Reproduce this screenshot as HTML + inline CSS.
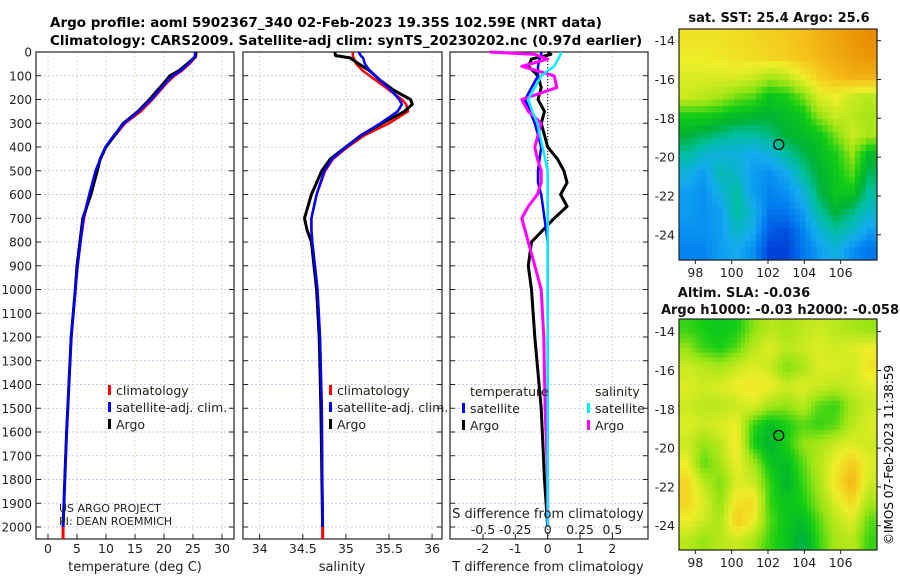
<!DOCTYPE html>
<html><head><meta charset="utf-8">
<style>
html,body{margin:0;padding:0;background:#fff;}
svg text{font-family:"DejaVu Sans","Liberation Sans",sans-serif;}
</style></head>
<body>
<svg id="fig" width="900" height="580" viewBox="0 0 900 580" xmlns="http://www.w3.org/2000/svg">
<rect width="900" height="580" fill="#fff"/>
<text x="50" y="27" font-size="13.5" font-weight="bold">Argo profile: aoml 5902367_340 02-Feb-2023 19.35S 102.59E (NRT data)</text>
<text x="50" y="45" font-size="13.5" font-weight="bold">Climatology: CARS2009. Satellite-adj clim: synTS_20230202.nc (0.97d earlier)</text>
<g id="g1"></g>
<g id="g2"></g>
<g id="g3"></g>
<g id="g4"></g>
<g id="g5"></g>
<text transform="translate(893,545) rotate(-90)" font-size="12">©IMOS 07-Feb-2023 11:38:59</text>
</svg>
<script>
// ---- profile data ----
const depthsT = [0,20,50,80,100,130,200,250,300,350,400,450,500,600,700,800,900,1000,1200,1400,1600,1800,2000];
const tempArgo = [25.5,25.4,24,22.5,21,20,17.5,15.5,13,11.5,10,9,8.5,7.4,6,5.5,5,4.7,4.0,3.6,3.2,2.9,2.6];
const tempClim = [25.6,25.5,24.4,23,21.8,20.5,18,16,13.3,11.6,10,9.1,8.3,7.2,6.2,5.6,5.1,4.7,4.0,3.6,3.2,2.9,2.6];
const tempSat  = [25.4,25.3,24.2,22.8,21.5,20.3,17.8,15.6,13.1,11.4,9.9,9.0,8.2,7.1,6.1,5.6,5.1,4.7,4.0,3.6,3.2,2.9,2.6];
const depthsS = [0,15,25,50,80,120,160,200,220,250,300,350,400,450,500,600,700,750,800,900,1000,1200,1500,2000];
const salArgo = [34.87,34.88,35.05,35.15,35.28,35.4,35.55,35.75,35.77,35.68,35.42,35.18,35.0,34.82,34.72,34.6,34.52,34.55,34.6,34.63,34.66,34.69,34.71,34.73];
const salClim = [35.08,35.08,35.09,35.12,35.2,35.35,35.5,35.65,35.7,35.72,35.5,35.22,35.02,34.85,34.76,34.66,34.6,34.6,34.61,34.64,34.67,34.7,34.72,34.73];
const salSat  = [35.15,35.17,35.2,35.22,35.28,35.4,35.52,35.62,35.65,35.6,35.4,35.18,35.0,34.84,34.75,34.66,34.6,34.6,34.61,34.64,34.67,34.7,34.72,34.73];
const depthsD = [0,10,30,60,100,150,200,250,300,400,450,500,550,600,650,700,800,900,1000,1200,1500,1800,2000];
const dTArgo = [0,0.1,-0.5,-0.6,-0.3,-0.2,-0.3,-0.1,-0.2,0,0.3,0.5,0.6,0.4,0.6,0.2,-0.5,-0.6,-0.5,-0.4,-0.2,-0.1,0];
const dTSat  = [-0.2,-0.2,-0.25,-0.3,-0.3,-0.5,-0.7,-0.55,-0.4,-0.2,-0.25,-0.3,-0.3,-0.2,-0.15,-0.1,0,0,0,0,0,0,0];
const dSArgo = [-0.45,-0.1,0.0,-0.2,0.05,0.07,-0.2,-0.15,-0.05,-0.1,-0.08,-0.05,-0.05,-0.08,-0.15,-0.2,-0.15,-0.1,-0.05,-0.03,-0.02,0,0];
const dSSat  = [0.1,0.1,0.08,0.05,-0.05,-0.1,-0.15,-0.12,-0.08,-0.04,-0.02,0,0,0,0,0,0,0,0,0,0,0,0];
const depthTicks = [0,100,200,300,400,500,600,700,800,900,1000,1100,1200,1300,1400,1500,1600,1700,1800,1900,2000];
const tTicks = [0,5,10,15,20,25,30];
const sTicks = [34,34.5,35,35.5,36];
const dTTicks = [-2,-1,0,1,2];
const dSTicks = [-0.5,-0.25,0,0.25,0.5];
const dSTickLabels = ["-0.5","-0.25","0","0.25","0.5"];
// ---- map data (rows top->bottom, cols west->east) ----
const sstGrid = [
[.72,.72,.72,.73,.74,.75,.76,.78,.80,.82,.84,.86],
[.70,.70,.71,.72,.73,.74,.75,.77,.79,.81,.83,.84],
[.68,.68,.68,.68,.66,.62,.64,.70,.75,.78,.80,.80],
[.66,.64,.62,.58,.56,.50,.52,.58,.68,.70,.66,.64],
[.52,.52,.50,.48,.47,.46,.48,.50,.60,.66,.64,.62],
[.46,.44,.42,.40,.40,.42,.46,.48,.50,.58,.66,.62],
[.40,.36,.34,.34,.32,.34,.40,.44,.48,.52,.60,.48],
[.34,.30,.38,.36,.30,.28,.32,.40,.46,.50,.56,.44],
[.30,.28,.34,.40,.30,.26,.28,.34,.44,.50,.50,.40],
[.30,.28,.30,.40,.34,.24,.24,.30,.40,.46,.42,.36],
[.28,.28,.30,.36,.32,.20,.18,.26,.34,.40,.36,.30],
[.26,.26,.30,.32,.28,.16,.16,.24,.30,.34,.28,.24]];
const slaGrid = [
[.50,.48,.46,.48,.55,.60,.58,.60,.62,.60,.58,.56],
[.56,.50,.48,.52,.60,.64,.60,.62,.64,.62,.64,.66],
[.62,.60,.58,.62,.64,.62,.54,.58,.64,.64,.62,.68],
[.64,.62,.64,.66,.68,.66,.62,.64,.62,.60,.62,.64],
[.62,.60,.60,.62,.64,.58,.56,.60,.52,.50,.58,.62],
[.64,.62,.64,.66,.50,.44,.48,.52,.50,.52,.60,.64],
[.62,.56,.60,.68,.48,.42,.48,.56,.58,.62,.64,.62],
[.66,.52,.58,.66,.58,.46,.44,.52,.60,.66,.72,.64],
[.70,.60,.54,.64,.62,.50,.42,.50,.58,.68,.76,.62],
[.70,.64,.56,.68,.70,.50,.46,.48,.56,.64,.70,.58],
[.66,.62,.58,.72,.66,.52,.46,.44,.52,.60,.64,.52],
[.60,.56,.60,.62,.58,.50,.46,.40,.50,.58,.60,.50]];
const lonTicks = [98,100,102,104,106];
const latTicks = [-14,-16,-18,-20,-22,-24];
const argoLon = 102.59, argoLat = -19.35;

const NS="http://www.w3.org/2000/svg";
function mk(tag, attrs, parent){const e=document.createElementNS(NS,tag);for(const k in attrs)e.setAttribute(k,attrs[k]);parent.appendChild(e);return e;}
const TOP=52, BOT=539;
const yD = d => TOP + (d/2000)*(527-TOP);

function panel(g, x0, x1, vmin, vmax, xticks, showY){
  const xs = v => x0 + (v-vmin)/(vmax-vmin)*(x1-x0);
  depthTicks.forEach(d=>{
    const l=mk('line',{x1:x0,x2:x1,y1:yD(d),y2:yD(d),stroke:'#b8bde8','stroke-width':0.8,'stroke-dasharray':'2,2'},g);
    
    
    const t=mk('line',{x1:x0,x2:x0+5,y1:yD(d),y2:yD(d),stroke:'#222'},g);
    
    
    const t2=mk('line',{x1:x1-5,x2:x1,y1:yD(d),y2:yD(d),stroke:'#222'},g);
    
    
    if(showY){
      const tx=mk('text',{x:x0-4,y:yD(d)+4.5,'font-size':12,'text-anchor':'end',fill:'#222'},g);
      tx.textContent=d;
      
      
    }
  });
  xticks.forEach(v=>{
    const l=mk('line',{x1:xs(v),x2:xs(v),y1:TOP,y2:BOT,stroke:'#e8c8b0','stroke-width':0.8,'stroke-dasharray':'2,2'},g);
    
    
    const t=mk('line',{x1:xs(v),x2:xs(v),y1:BOT-5,y2:BOT,stroke:'#222'},g);
    
    
  });
  const fr=mk('rect',{x:x0,y:TOP,width:x1-x0,height:BOT-TOP,fill:'none',stroke:'#222','stroke-width':1.2},g);
  
  
  return xs;
}
function line(g, xs, vals, depths, color, w, name){
  const p=vals.map((v,i)=>(i?'L':'M')+xs(v).toFixed(1)+','+yD(depths[i]).toFixed(1)).join('');
  const e=mk('path',{d:p,fill:'none',stroke:color,'stroke-width':w,'stroke-linejoin':'round'},g);
  
  
}
function label(g,x,y,txt,size,anchor,name){
  const t=mk('text',{x:x,y:y,'font-size':size,'text-anchor':anchor||'start',fill:'#222'},g);
  t.textContent=txt;
  
  
}
function legend(g,x,y,items){
  items.forEach((it,i)=>{
    const r=mk('rect',{x:x,y:y+i*17-9,width:3,height:10,fill:it[0]},g);
    
    
    label(g,x+8,y+i*17+1,it[1],12.5,'start','legend-entry');
  });
}
// Panel 1
const g1=document.getElementById('g1');
const xT=panel(g1,36,234,-2.07,32.07,tTicks,true);
line(g1,xT,tempClim,depthsT,'#f00',2.5,'temperature-climatology-line');
line(g1,xT,tempArgo,depthsT,'#000',3,'temperature-argo-line');
line(g1,xT,tempSat,depthsT,'#00f',2.5,'temperature-satellite-line');
mk('rect',{x:xT(2.6)-1.5,y:527,width:3,height:12,fill:'#f00'},g1);
tTicks.forEach(v=>label(g1,xT(v),553,String(v),12.5,'middle','x-tick-label'));
label(g1,135,571,'temperature (deg C)',13,'middle','x-axis-title');
legend(g1,108,394,[['#f00','climatology'],['#00f','satellite-adj. clim.'],['#000','Argo']]);
label(g1,59,512,'US ARGO PROJECT',11,'start','credit-project');
label(g1,59,525,'PI: DEAN ROEMMICH',11,'start','credit-pi');
// Panel 2
const g2=document.getElementById('g2');
const xS=panel(g2,243,442,33.806,36.115,sTicks,false);
line(g2,xS,salClim,depthsS,'#f00',2.5,'salinity-climatology-line');
line(g2,xS,salArgo,depthsS,'#000',3,'salinity-argo-line');
line(g2,xS,salSat,depthsS,'#00f',2.5,'salinity-satellite-line');
mk('rect',{x:xS(34.73)-1.5,y:527,width:3,height:12,fill:'#f00'},g2);
sTicks.forEach(v=>label(g2,xS(v),553,String(v),12.5,'middle','x-tick-label'));
label(g2,342,571,'salinity',13,'middle','x-axis-title');
legend(g2,329,394,[['#f00','climatology'],['#00f','satellite-adj. clim.'],['#000','Argo']]);
// Panel 3
const g3=document.getElementById('g3');
const xD=panel(g3,450,648,-3.02,3.1,dTTicks,false);
const xDS = v => xD(v*4);
const zl=mk('line',{x1:xD(0),x2:xD(0),y1:TOP,y2:BOT,stroke:'#000','stroke-width':1,'stroke-dasharray':'1,2'},g3);
line(g3,xD,dTArgo,depthsD,'#000',3,'temp-diff-argo-line');
line(g3,xD,dTSat,depthsD,'#00f',2.5,'temp-diff-satellite-line');
line(g3,xDS,dSArgo,depthsD,'#f0f',3,'sal-diff-argo-line');
line(g3,xDS,dSSat,depthsD,'#0ef',2.5,'sal-diff-satellite-line');
dTTicks.forEach(v=>label(g3,xD(v),553,String(v),12.5,'middle','x-tick-label'));
dSTicks.forEach((v,i)=>label(g3,xDS(v),534,dSTickLabels[i],12.5,'middle','s-tick-label'));
label(g3,548,518,'S difference from climatology',13,'middle','s-axis-title');
label(g3,548,571,'T difference from climatology',13,'middle','t-axis-title');
label(g3,470,396,'temperature',12.5,'start','legend-title-temperature');
label(g3,595,396,'salinity',12.5,'start','legend-title-salinity');
legend(g3,462,412,[['#00f','satellite'],['#000','Argo']]);
legend(g3,587,412,[['#0ef','satellite'],['#f0f','Argo']]);

// Maps
function cmap(v){
  const st=[[0.15,[0,60,215]],[0.25,[0,125,240]],[0.32,[20,170,240]],[0.40,[0,190,160]],[0.46,[0,180,50]],[0.52,[20,205,20]],[0.60,[150,228,20]],[0.70,[238,238,40]],[0.78,[245,190,25]],[0.87,[232,135,0]]];
  if(v<=st[0][0])return st[0][1];
  for(let i=1;i<st.length;i++){if(v<=st[i][0]){const a=st[i-1],b=st[i],f=(v-a[0])/(b[0]-a[0]);return a[1].map((c,k)=>Math.round(c+(b[1][k]-c)*f));}}
  return st[st.length-1][1];
}
function drawMap(g, grid, shift, x0, y0, x1, y1, latTop, latBot, sub, title1, title2, tY1, tY2){
  const lonL=97.1, lonR=108.0;
  const xs=l=>x0+(l-lonL)/(lonR-lonL)*(x1-x0);
  const ys=la=>y0+(la-latTop)/(latBot-latTop)*(y1-y0);
  const R=grid.length, C=grid[0].length, N=R*sub, M=C*sub;
  const cw=(x1-x0)/M, ch=(y1-y0)/N;
  for(let i=0;i<N;i++)for(let j=0;j<M;j++){
    const fi=Math.min(R-1,Math.max(0,(i+0.5)/sub-0.5)), fj=Math.min(C-1,Math.max(0,(j+0.5)/sub-0.5));
    const i0=Math.floor(fi), j0=Math.floor(fj), i1=Math.min(R-1,i0+1), j1=Math.min(C-1,j0+1), a=fi-i0, b=fj-j0;
    const v=grid[i0][j0]*(1-a)*(1-b)+grid[i0][j1]*(1-a)*b+grid[i1][j0]*a*(1-b)+grid[i1][j1]*a*b+shift;
    const c=cmap(v);
    const r=mk('rect',{x:(x0+j*cw).toFixed(2),y:(y0+i*ch).toFixed(2),width:(cw+0.6).toFixed(2),height:(ch+0.6).toFixed(2),fill:'rgb('+c.join(',')+')'},g);
    
    
  }
  const fr=mk('rect',{x:x0,y:y0,width:x1-x0,height:y1-y0,fill:'none',stroke:'#222','stroke-width':1.2},g);
  
  
  lonTicks.forEach(l=>{
    mk('line',{x1:xs(l),x2:xs(l),y1:y1,y2:y1+4,stroke:'#222'},g);
    label(g,xs(l),y1+17,String(l),12.5,'middle','lon-tick-label');
  });
  latTicks.forEach(la=>{
    mk('line',{x1:x1,x2:x1+4,y1:ys(la),y2:ys(la),stroke:'#222'},g);
    label(g,x0-4,ys(la)+4.5,String(la),12.5,'end','lat-tick-label');
  });
  const c=mk('circle',{cx:xs(argoLon),cy:ys(argoLat),r:5,fill:'none',stroke:'#000','stroke-width':1.3},g);
  
  
  if(title1){const t=mk('text',{x:tY1[0],y:tY1[1],'font-size':13,'font-weight':'bold','text-anchor':'middle',fill:'#111'},g);t.textContent=title1;}
  if(title2){const t=mk('text',{x:tY2[0],y:tY2[1],'font-size':13,'font-weight':'bold','text-anchor':'middle',fill:'#111'},g);t.textContent=title2;}
}
drawMap(document.getElementById('g4'),sstGrid,0,679,29,877,260,-13.4,-25.3,3,'sat. SST: 25.4 Argo: 25.6',null,[779,22]);
drawMap(document.getElementById('g5'),slaGrid,0.04,679,319,877,550,-13.35,-25.25,4,'Altim. SLA: -0.036','Argo h1000: -0.03 h2000: -0.058',[744,297],[780,314]);
</script>
</body></html>
